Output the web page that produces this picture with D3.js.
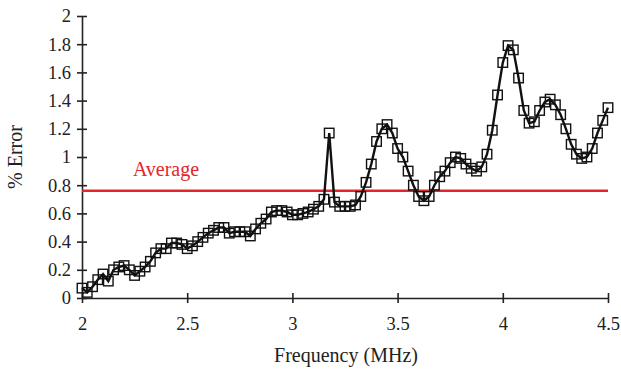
<!DOCTYPE html>
<html lang="en">
<head>
<meta charset="UTF-8">
<title>% Error vs Frequency</title>
<script src="https://cdn.jsdelivr.net/npm/d3@7"></script>
<style>
  body { margin: 0; background: #fff; }
  svg text { font-family: "Liberation Serif", "DejaVu Serif", serif; }
</style>
</head>
<body>
<div id="chart"></div>
<script>
// frequency (MHz) and % error
const freq = d3.range(0, 101).map(i => +(2 + i * 0.025).toFixed(3))
const errorPct = [
  0.07, 0.04, 0.08, 0.13, 0.17, 0.12, 0.20, 0.22, 0.23, 0.20,
  0.16, 0.19, 0.22, 0.26, 0.32, 0.35, 0.35, 0.39, 0.39, 0.38,
  0.35, 0.37, 0.40, 0.43, 0.46, 0.48, 0.50, 0.50, 0.46, 0.47,
  0.47, 0.47, 0.44, 0.49, 0.53, 0.56, 0.61, 0.62, 0.62, 0.61,
  0.59, 0.59, 0.60, 0.61, 0.63, 0.65, 0.70, 1.17, 0.68, 0.65,
  0.65, 0.65, 0.66, 0.72, 0.82, 0.95, 1.11, 1.20, 1.23, 1.17,
  1.06, 1.00, 0.90, 0.80, 0.72, 0.69, 0.72, 0.80, 0.86, 0.90,
  0.96, 1.00, 0.99, 0.95, 0.92, 0.90, 0.93, 1.02, 1.19, 1.44,
  1.67, 1.79, 1.76, 1.56, 1.33, 1.24, 1.25, 1.33, 1.39, 1.41,
  1.37, 1.30, 1.20, 1.09, 1.02, 0.99, 1.00, 1.06, 1.17, 1.26,
  1.35
]
const average = 0.76
const xTicks = [2, 2.5, 3, 3.5, 4, 4.5]
const yTicks = [0, 0.2, 0.4, 0.6, 0.8, 1, 1.2, 1.4, 1.6, 1.8, 2]

const w = 621
const h = 372
const margin = {left: 82, right: 13, top: 16, bottom: 74}
const fs = "20px"
const tickFs = "18.5px"

const svg = d3.select("#chart").append("svg")
  .attr("width", w)
  .attr("height", h)

const x = d3.scaleLinear().domain([2, 4.5]).range([margin.left, w - margin.right])
const y = d3.scaleLinear().domain([0, 2]).range([h - margin.bottom, margin.top])

const data = freq.map((f, i) => ({f: f, v: errorPct[i]}))

// axes
const xAxis = svg.append("g")
  .attr("transform", `translate(0,${y(0)})`)
  .call(d3.axisBottom(x).tickValues(xTicks).tickFormat(d3.format("")).tickSize(5).tickSizeOuter(0))
xAxis.selectAll(".tick line").attr("y1", -5).attr("y2", 5)
xAxis.selectAll(".tick text").attr("y", 19).style("font-size", tickFs).attr("fill", "#222")

const yAxis = svg.append("g")
  .attr("transform", `translate(${x(2)},0)`)
  .call(d3.axisLeft(y).tickValues(yTicks).tickFormat(d3.format("")).tickSize(5).tickSizeOuter(0))
yAxis.selectAll(".tick line").attr("x1", 5).attr("x2", -5)
yAxis.selectAll(".tick text").attr("x", -11).style("font-size", tickFs).attr("fill", "#222")

svg.selectAll(".domain, .tick line").attr("stroke", "#222").attr("stroke-width", 1.6)

// average line
svg.append("line")
  .attr("x1", x(2)).attr("x2", x(4.5))
  .attr("y1", y(average)).attr("y2", y(average))
  .attr("stroke", "#e4252a")
  .attr("stroke-width", 2.5)

svg.append("text")
  .attr("x", 166)
  .attr("y", 176)
  .attr("text-anchor", "middle")
  .attr("fill", "#e4252a")
  .style("font-size", fs)
  .text("Average")

// error series
svg.append("path")
  .datum(data)
  .attr("fill", "none")
  .attr("stroke", "#111")
  .attr("stroke-width", 2.4)
  .attr("d", d3.line().x(d => x(d.f)).y(d => y(d.v)))

const s = 9.5
svg.selectAll("rect.pt")
  .data(data)
  .enter()
  .append("rect")
  .attr("class", "pt")
  .attr("x", d => x(d.f) - s / 2)
  .attr("y", d => y(d.v) - s / 2)
  .attr("width", s)
  .attr("height", s)
  .attr("fill", "none")
  .attr("stroke", "#111")
  .attr("stroke-width", 1.4)

// axis titles
svg.append("text")
  .attr("x", 346)
  .attr("y", 362)
  .attr("text-anchor", "middle")
  .style("font-size", fs)
  .attr("fill", "#222")
  .text("Frequency (MHz)")

svg.append("text")
  .attr("transform", `translate(22,${y(1)}) rotate(-90)`)
  .attr("text-anchor", "middle")
  .style("font-size", fs)
  .attr("fill", "#222")
  .text("% Error")
</script>
</body>
</html>
